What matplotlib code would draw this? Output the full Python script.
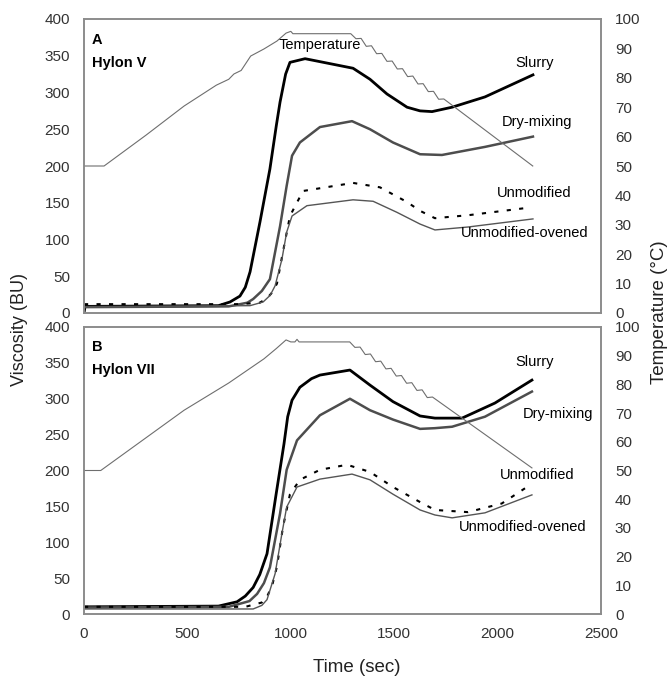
import matplotlib
matplotlib.use("Agg")
import matplotlib.pyplot as plt

plt.rcParams["font.family"] = ["Liberation Sans", "DejaVu Sans"]

# ---- Panel A (Hylon V) ----
temp_a_t = [0, 97, 300, 484, 640, 700, 725, 760, 806, 870, 933, 977, 1000, 1010, 1290,
            1315, 1340, 1365, 1390, 1415, 1440, 1465, 1490, 1515, 1540, 1565, 1590,
            1615, 1640, 1665, 1690, 1715, 1740, 2170]
temp_a_v = [50, 50, 60.5, 70.4, 77.5, 79.5, 81.3, 82.5, 87.4, 89.8, 92.5, 95.2, 95.8, 95.0, 95.0,
            93.3, 93.4, 90.7, 90.9, 88.2, 88.3, 85.6, 85.7, 83.0, 83.1, 80.4, 80.6,
            77.9, 78.0, 75.3, 75.4, 72.7, 72.8, 50.0]

slurry_a_t = [0, 5, 650, 706, 754, 780, 803, 851, 899, 930, 948, 975, 996, 1069, 1301, 1383,
              1465, 1562, 1625, 1683, 1780, 1939, 2171]
slurry_a_v = [0, 9, 10, 15, 23, 35, 56, 124, 196, 255, 287, 325, 341, 346, 333, 318,
              298, 280, 275, 274, 280, 294, 324]

dry_a_t = [0, 700, 790, 818, 860, 899, 948, 980, 1006, 1044, 1141, 1296, 1383, 1494, 1625, 1731, 1939, 2171]
dry_a_v = [8, 9, 14, 19, 30, 46, 118, 173, 214, 232, 253, 261, 250, 232, 216, 215, 226, 240]

unmod_a_t = [0, 750, 850, 885, 910, 933, 962, 996, 1059, 1301, 1431, 1562, 1625, 1697, 1857, 2142]
unmod_a_v = [12, 12, 14, 20, 28, 40, 83, 132, 166, 177, 171, 151, 139, 129, 133, 143]

oven_a_t = [0, 803, 866, 900, 924, 957, 980, 1006, 1078, 1301, 1398, 1513, 1625, 1697, 1857, 2171]
oven_a_v = [8, 10, 15, 24, 37, 73, 110, 132, 146, 154, 152, 137, 121, 113, 117, 128]

# ---- Panel B (Hylon VII) ----
temp_b_t = [0, 81, 484, 700, 870, 930, 977, 1000, 1020, 1030, 1040, 1285,
            1310, 1335, 1360, 1385, 1410, 1435, 1460, 1485, 1510, 1535, 1560, 1585,
            1610, 1635, 1660, 1685, 2166]
temp_b_v = [50, 50, 71, 80.5, 88.9, 92.5, 95.5, 94.8, 94.8, 95.7, 94.8, 94.8,
            92.9, 93.0, 90.4, 90.6, 87.9, 88.1, 85.4, 85.6, 82.9, 83.1, 80.4, 80.6,
            77.9, 78.1, 75.4, 75.6, 50.9]

slurry_b_t = [0, 650, 740, 780, 818, 850, 885, 929, 967, 985, 1006, 1044, 1100, 1141, 1286,
              1383, 1494, 1625, 1697, 1828, 1987, 2166]
slurry_b_v = [10, 11, 17, 25, 37, 55, 84, 167, 237, 275, 298, 316, 328, 333, 340,
              319, 296, 276, 273, 273, 294, 326]

dry_b_t = [0, 700, 800, 837, 870, 899, 948, 980, 1030, 1141, 1286, 1383, 1494, 1625, 1697, 1780, 1939, 2166]
dry_b_v = [9, 10, 18, 28, 43, 65, 140, 201, 242, 277, 300, 284, 271, 258, 259, 261, 275, 310]

unmod_b_t = [0, 780, 860, 885, 910, 933, 962, 996, 1044, 1141, 1272, 1383, 1494, 1625, 1697, 1857, 2020, 2142]
unmod_b_v = [10, 10, 16, 24, 40, 66, 121, 167, 187, 201, 208, 198, 177, 156, 145, 142, 154, 177]

oven_b_t = [0, 818, 860, 885, 924, 957, 980, 1030, 1141, 1296, 1383, 1494, 1625, 1697, 1780, 1939, 2166]
oven_b_v = [7, 7, 12, 20, 56, 112, 149, 177, 188, 195, 187, 167, 145, 138, 134, 141, 166]

labels = ["Temperature", "Slurry", "Dry-mixing", "Unmodified", "Unmodified-ovened"]
label_pos_a = [(1141, 365), (2181, 340), (2190, 260), (2176, 163), (2132, 109)]
label_pos_b = [None, (2181, 351), (2292, 279), (2190, 194), (2123, 121)]

W, H = 670, 677
fig = plt.figure(figsize=(W / 100, H / 100), dpi=100)
frame = "#8c8c8c"


def panel(rect, temp, curves, letter, name, label_pos, show_x):
    ax = fig.add_axes(rect)
    ax2 = ax.twinx()
    ax2.plot(temp[0], temp[1], color="#6e6e6e", lw=0.8)
    st, sv = curves["slurry"]
    ax.plot(st, sv, color="black", lw=2.0)
    dt, dv = curves["dry"]
    ax.plot(dt, dv, color="#4d4d4d", lw=1.8)
    ut, uv = curves["unmod"]
    ax.plot(ut, uv, color="black", lw=1.5, ls=(0, (2, 4)))
    ot, ov = curves["oven"]
    ax.plot(ot, ov, color="#555555", lw=1.0)

    ax.set_xlim(0, 2500)
    ax.set_ylim(0, 400)
    ax2.set_ylim(0, 100)
    ax.set_yticks(range(0, 401, 50))
    ax2.set_yticks(range(0, 101, 10))
    ax.set_xticks(range(0, 2501, 500))
    ax.tick_params(axis="y", length=0, labelsize=11, pad=10, labelcolor="#333333")
    ax.tick_params(axis="x", length=0, labelsize=11, pad=9, labelcolor="#333333",
                   labelbottom=show_x)
    ax2.tick_params(length=0, labelsize=11, pad=10, labelcolor="#333333")
    for a in (ax, ax2):
        for s in a.spines.values():
            s.set_color(frame)
            s.set_linewidth(1.2)

    ax.text(0.015, 0.93, letter, transform=ax.transAxes, fontsize=10.5,
            fontweight="bold", va="center")
    ax.text(0.015, 0.85, name, transform=ax.transAxes, fontsize=10.5,
            fontweight="bold", va="center")
    for lab, pos in zip(labels, label_pos):
        if pos is None:
            continue
        ax.text(pos[0], pos[1], lab, fontsize=10.5, ha="center", va="center")
    return ax


axA = panel([84 / W, 1 - 313 / H, 517 / W, 294 / H],
            (temp_a_t, temp_a_v),
            {"slurry": (slurry_a_t, slurry_a_v), "dry": (dry_a_t, dry_a_v),
             "unmod": (unmod_a_t, unmod_a_v), "oven": (oven_a_t, oven_a_v)},
            "A", "Hylon V", label_pos_a, False)
axB = panel([84 / W, 1 - 614 / H, 517 / W, 287 / H],
            (temp_b_t, temp_b_v),
            {"slurry": (slurry_b_t, slurry_b_v), "dry": (dry_b_t, dry_b_v),
             "unmod": (unmod_b_t, unmod_b_v), "oven": (oven_b_t, oven_b_v)},
            "B", "Hylon VII", label_pos_b, True)

fig.text(357 / W, 1 - 668 / H, "Time (sec)", fontsize=13.5, ha="center", va="center",
         color="#222222")
fig.text(20 / W, 1 - 330 / H, "Viscosity (BU)", rotation=90, fontsize=13,
         ha="center", va="center", color="#222222")
fig.text(660 / W, 1 - 312 / H, "Temperature (\u00b0C)", rotation=90, fontsize=13.5,
         ha="center", va="center", color="#222222")

fig.savefig("out.png", dpi=100)
